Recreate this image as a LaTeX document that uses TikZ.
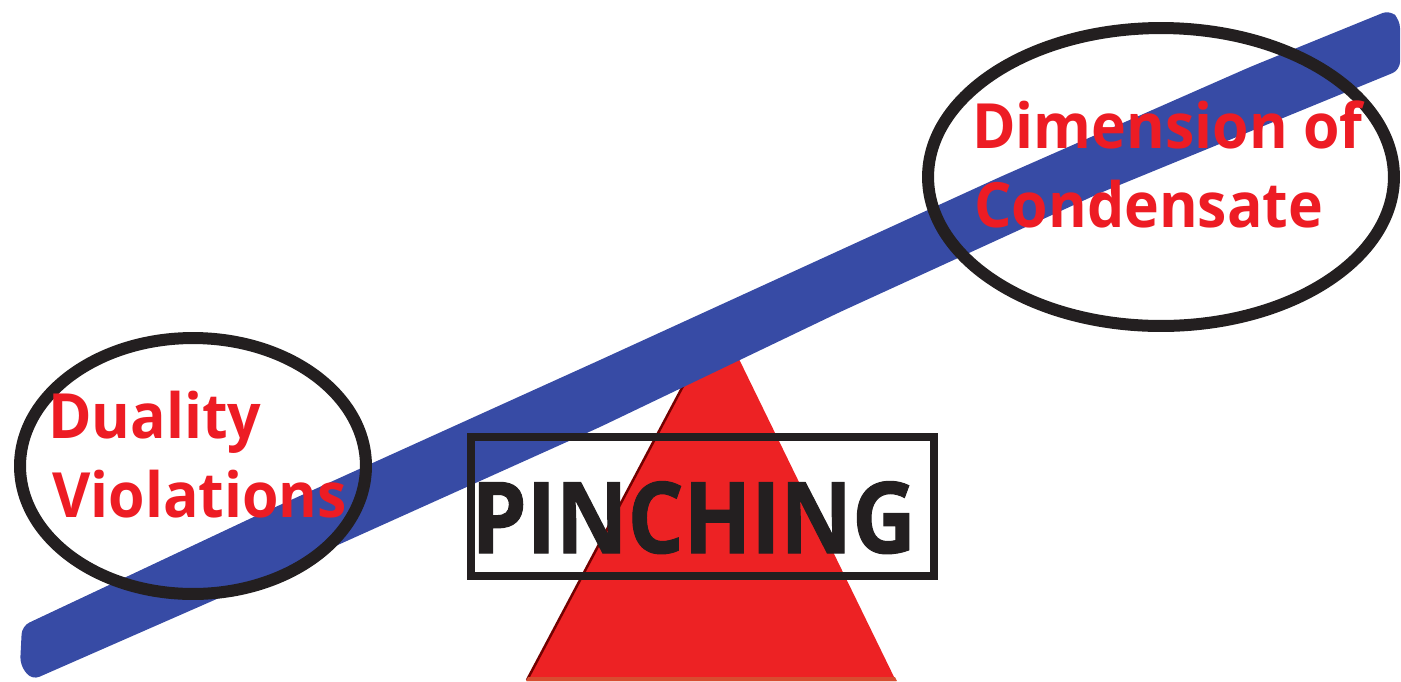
\documentclass[tikz,border=0pt]{standalone}
\usepackage{fontspec}
\usepackage{tikz}
\usetikzlibrary{shapes.geometric, positioning}
\newfontfamily\redfont[FakeStretch=0.945]{Open Sans}
\newfontfamily\pinchfont[FakeStretch=0.89, FakeBold=1]{Open Sans}
\definecolor{seesawblue}{RGB}{55,75,165}
\definecolor{labelred}{RGB}{237,28,36}
\definecolor{fulcrumred}{RGB}{237,34,36}
\definecolor{inkblack}{RGB}{35,31,32}
\tikzset{
  ring/.style={draw=inkblack, line width=0.24cm, ellipse, inner sep=0pt},
  redlabel/.style={text=labelred, font=\redfont\bfseries\fontsize{35.5}{42}\selectfont, anchor=base west, inner sep=0pt},
}

\begin{document}
\begin{tikzpicture}[x=0.02cm, y=-0.02cm]
\useasboundingbox (0,0) rectangle (1401,681);

% fulcrum
\fill[fulcrumred] (527,681) -- (719,318) -- (896,681) -- cycle;
\draw[red!45!black, line width=0.05cm] (527,680) -- (700,354);
\fill[fulcrumred!55!brown] (528,677) -- (895,677) -- (897,681) -- (526,681) -- cycle;

% the beam, slightly bowed
\fill[seesawblue, rounded corners=0.16cm] (22,626) -- (260,514) -- (600,360) -- (1000,177)
  -- (1250,67) -- (1390,10) -- (1400,20) -- (1400,70) -- (1100,193) -- (840,312)
  -- (600,427) -- (260,580) -- (32,680) -- (20,665) -- cycle;

\node[ring, minimum width=6.92cm, minimum height=5.12cm] (duality) at (193,466) {};
\node[ring, minimum width=9.32cm, minimum height=5.96cm] (dimension) at (1161,177) {};

\node[redlabel] (dualityA) at (48,438) {Duality};
\node[redlabel] (dualityB) at (52,517) {Violations};
\node[redlabel] (dimensionA) at (972,148) {Dimension of};
\node[redlabel] (dimensionB) at (974,227) {Condensate};

\node[draw=inkblack, line width=0.16cm, minimum width=9.26cm, minimum height=2.78cm, inner sep=0pt] (pinchbox) at (702.5,506.5) {};
\node[text=inkblack, font=\pinchfont\bfseries\fontsize{56.4}{60}\selectfont, anchor=base west, inner sep=0pt] (pinching) at (471,553) {PINCHING};
\end{tikzpicture}
\end{document}
